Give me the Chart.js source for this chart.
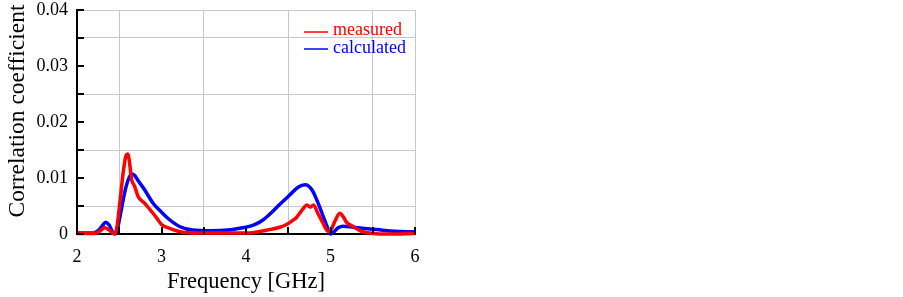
<!DOCTYPE html>
<html>
<head>
<meta charset="utf-8">
<script src="https://cdn.jsdelivr.net/npm/chart.js@4"></script>
<style>
  html, body { margin: 0; padding: 0; background: #fff; }
  #wrap { width: 903px; height: 297px; }
</style>
</head>
<body>
<div id="wrap"><canvas id="chart"></canvas></div>
<script>
// measured curve (red)
const measuredFreq = [2.0, 2.2, 2.27, 2.33, 2.38, 2.44, 2.47, 2.51, 2.55, 2.58, 2.6, 2.62, 2.645, 2.68, 2.72, 2.76, 2.8, 2.85, 2.9, 2.95, 3.0, 3.1, 3.22, 3.4, 3.8, 4.05, 4.25, 4.4, 4.48, 4.55, 4.6, 4.65, 4.68, 4.72, 4.76, 4.8, 4.85, 4.91, 4.97, 5.0, 5.05, 5.11, 5.15, 5.19, 5.27, 5.38, 5.5, 5.7, 6.0];
const measuredVal = [0.0001, 0.0001, 0.0005, 0.0011, 0.0007, 0.0, 0.001, 0.006, 0.0114, 0.014, 0.0143, 0.013, 0.0098, 0.0086, 0.0068, 0.006, 0.0055, 0.0046, 0.0037, 0.0027, 0.0017, 0.001, 0.0004, 0.0002, 0.0002, 0.0002, 0.0007, 0.0012, 0.0017, 0.0024, 0.003, 0.004, 0.0046, 0.0052, 0.0048, 0.0052, 0.0037, 0.002, 0.0005, 0.0006, 0.0022, 0.0037, 0.0031, 0.0021, 0.0013, 0.0004, 0.0001, 0.0, 0.0001];

// calculated curve (blue)
const calcFreq = [2.0, 2.2, 2.25, 2.3, 2.34, 2.38, 2.42, 2.45, 2.48, 2.52, 2.57, 2.62, 2.65, 2.68, 2.72, 2.8, 2.9, 3.0, 3.1, 3.22, 3.37, 3.57, 3.78, 3.96, 4.05, 4.12, 4.2, 4.3, 4.4, 4.52, 4.62, 4.7, 4.78, 4.84, 4.9, 4.96, 5.0, 5.04, 5.09, 5.15, 5.27, 5.47, 5.67, 5.94, 6.0];
const calcVal = [0.0002, 0.0002, 0.0006, 0.0015, 0.0021, 0.0016, 0.0004, 0.0, 0.001, 0.004, 0.0078, 0.0102, 0.0107, 0.0105, 0.0096, 0.0079, 0.0055, 0.0039, 0.0025, 0.0013, 0.0007, 0.0006, 0.0007, 0.0011, 0.0014, 0.0018, 0.0025, 0.0038, 0.0053, 0.007, 0.0084, 0.0088, 0.0079, 0.006, 0.0037, 0.0013, 0.0, 0.0004, 0.0011, 0.0014, 0.0012, 0.0009, 0.0006, 0.0004, 0.0004];

const xTickLabels = ["2", "3", "4", "5", "6"];
const yTickLabels = ["0", "0.01", "0.02", "0.03", "0.04"];
const yTitle = "Correlation coefficient";

const serif = "'Liberation Serif', 'Times New Roman', serif";
const gridGray = "#c8c8c8";
const clear = "rgba(0,0,0,0)";
// grid only at the half steps and at the far edges (index 8)
const gridColors = [clear, gridGray, clear, gridGray, clear, gridGray, clear, gridGray, gridGray];

const toPoints = (xs, ys) => xs.map((x, i) => ({ x: x, y: ys[i] }));

// inward tick marks, y title (sits a bit above centre) and legend inside the plot
const extras = {
  id: "extras",
  afterDraw(chart) {
    const ctx = chart.ctx;
    const xs = chart.scales.x;
    const ys = chart.scales.y;
    const area = chart.chartArea;
    ctx.save();
    ctx.strokeStyle = "#000";
    ctx.lineWidth = 2;
    for (let v = 2; v <= 6.0001; v += 0.5) {
      const px = Math.round(xs.getPixelForValue(v));
      ctx.beginPath();
      ctx.moveTo(px, area.bottom);
      ctx.lineTo(px, area.bottom - 7);
      ctx.stroke();
    }
    for (let i = 0; i <= 8; i++) {
      const py = Math.round(ys.getPixelForValue(i * 0.005));
      ctx.beginPath();
      ctx.moveTo(area.left, py);
      ctx.lineTo(area.left + 7, py);
      ctx.stroke();
    }

    ctx.save();
    ctx.translate(18, 111);
    ctx.rotate(-Math.PI / 2);
    ctx.font = "23.5px " + serif;
    ctx.fillStyle = "#000";
    ctx.textAlign = "center";
    ctx.textBaseline = "middle";
    ctx.fillText(yTitle, 0, 0);
    ctx.restore();

    // legend
    ctx.font = "18px " + serif;
    ctx.textBaseline = "alphabetic";
    ctx.textAlign = "left";
    ctx.lineWidth = 1.5;
    const rows = [[35, 32], [53, 49]];
    chart.data.datasets.forEach((ds, i) => {
      ctx.strokeStyle = ds.borderColor;
      ctx.fillStyle = ds.borderColor;
      ctx.beginPath();
      ctx.moveTo(304, rows[i][1]);
      ctx.lineTo(328, rows[i][1]);
      ctx.stroke();
      ctx.fillText(ds.label, 333, rows[i][0]);
    });
    ctx.restore();
  }
};

new Chart(document.getElementById("chart"), {
  type: "line",
  data: {
    datasets: [
      {
        label: "measured",
        data: toPoints(measuredFreq, measuredVal),
        borderColor: "#ff0000",
        borderWidth: 3.5,
        pointRadius: 0,
        cubicInterpolationMode: "monotone",
        clip: 4
      },
      {
        label: "calculated",
        data: toPoints(calcFreq, calcVal),
        borderColor: "#0000ff",
        borderWidth: 3.5,
        pointRadius: 0,
        cubicInterpolationMode: "monotone",
        clip: 4
      }
    ]
  },
  options: {
    responsive: true,
    maintainAspectRatio: false,
    animation: false,
    layout: { padding: { top: 10, right: 488, left: 0, bottom: 0 } },
    plugins: { legend: { display: false }, tooltip: { enabled: false } },
    scales: {
      x: {
        type: "linear",
        min: 2,
        max: 6,
        afterFit: (s) => { s.height = 63; s.paddingLeft = 0; s.paddingRight = 0; },
        ticks: {
          stepSize: 0.5,
          autoSkip: false,
          maxRotation: 0,
          padding: 12,
          color: "#000",
          font: { family: serif, size: 18 },
          callback: (v) => (Math.abs(v - Math.round(v)) < 1e-6 ? xTickLabels[Math.round(v) - 2] : "")
        },
        grid: {
          drawTicks: false,
          lineWidth: 1,
          color: gridColors
        },
        border: { display: true, color: "#000", width: 2 },
        title: {
          display: true,
          text: "Frequency [GHz]",
          color: "#000",
          font: { family: serif, size: 22.5 },
          padding: { top: 0, bottom: 1 }
        }
      },
      y: {
        min: 0,
        max: 0.04,
        afterFit: (s) => { s.width = 77; s.paddingTop = 0; s.paddingBottom = 0; },
        ticks: {
          stepSize: 0.005,
          autoSkip: false,
          padding: 9,
          color: "#000",
          font: { family: serif, size: 18 },
          callback: (v) => {
            const k = Math.round(v * 200);
            return k % 2 === 0 ? yTickLabels[k / 2] : "";
          }
        },
        grid: {
          drawTicks: false,
          lineWidth: 1,
          color: gridColors
        },
        border: { display: true, color: "#000", width: 2 },
        title: { display: false }
      }
    }
  },
  plugins: [extras]
});
</script>
</body>
</html>
